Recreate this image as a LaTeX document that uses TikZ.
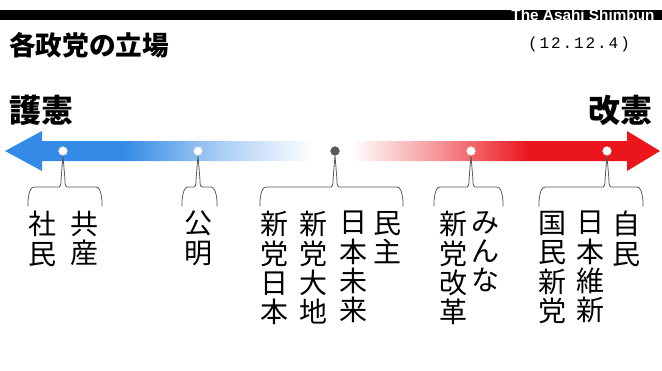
\documentclass[tikz,border=0pt]{standalone}
\usepackage{fontspec}
\usepackage{xcolor}
\usepackage{tikz}
\usetikzlibrary{positioning}
\usetikzlibrary{calc,shadings}
\newfontfamily\jp{Noto Sans CJK JP}
\newfontfamily\logofont{Liberation Sans}
\newfontfamily\datefont{Liberation Mono}[LetterSpace=12]
\definecolor{gokenblue}{RGB}{52,138,230}
\definecolor{kaikenred}{RGB}{234,22,28}
\colorlet{gokenpale}{gokenblue!45!white}
\colorlet{kaikenpale}{kaikenred!45!white}
\pgfdeclarehorizontalshading{kenpo}{100bp}{color(0bp)=(gokenblue);
  color(34bp)=(gokenblue); color(41bp)=(gokenpale); color(48.5bp)=(white);
  color(51.5bp)=(white); color(58bp)=(kaikenpale); color(65bp)=(kaikenred);
  color(100bp)=(kaikenred)}
\tikzset{
  party/.style = {anchor=north, align=center, inner sep=0pt,
    font=\jp\fontsize{21pt}{22pt}\selectfont},% seito, tategaki
  pole/.style = {inner sep=0pt, font=\jp\bfseries\fontsize{24pt}{24pt}\selectfont},
  dot/.style = {circle, inner sep=0pt, minimum size=6.5pt,
    fill=white, draw=white!85!black},% ten on the arrow
  middot/.style = {dot, fill=black!65, draw=black!65},
  kakko/.style = {draw=black!65, line width=0.6pt}% kakko under a dot
}
% #1 dot, #2 left end, #3 right end
\newcommand\partybrace[3]{%
  \draw[kakko] (#2,205) to[out=-90,in=180] (#2+6,187)
    -- ($(#1 |- base)+(-4,0)$) to[out=0,in=90] ($(#1 |- base)+(-2,-7)$)
    -- (#1.south)
    -- ($(#1 |- base)+(2,-7)$) to[out=90,in=180] ($(#1 |- base)+(4,0)$)
    -- (#3-6,187) to[out=0,in=-90] (#3,205);}

\begin{document}
\begin{tikzpicture}[x=0.75pt,y=-0.75pt]
\useasboundingbox (0,0) rectangle (662,371);
\coordinate (base) at (0,187);
% header
\fill[black] (0,10) rectangle (662,20);
\node[inner sep=0pt, white, font=\logofont\bfseries\fontsize{11.5pt}{11.5pt}\selectfont]
  (asahi) at (583,15) {The Asahi Shimbun};
\node[anchor=west, inner sep=0pt, font=\jp\bfseries\fontsize{20pt}{20pt}\selectfont]
  (title) at (9,45) {各政党の立場};
\node[inner sep=0pt, font=\datefont\fontsize{12pt}{12pt}\selectfont]
  (date) at (579,44) {(12.12.4)};
\node[pole, anchor=west] (goken) at (9,110) {護憲};
\node[pole, anchor=east] (kaiken) at (653,110) {改憲};
% arrow
\shade[shading=kenpo] (5,151) -- (42,131) -- (42,141) -- (627,141) -- (627,131)
  -- (660,151) -- (627,171) -- (627,161) -- (42,161) -- (42,171) -- cycle;
\node[dot] (d1) at (63,151) {};
\node[dot] (d2) at (198,151) {};
\node[middot] (d3) at (335,151) {};
\node[dot] (d4) at (471,151) {};
\node[dot] (d5) at (607,151) {};
\partybrace{d1}{28}{102}
\partybrace{d2}{182}{217}
\partybrace{d3}{260}{403}
\partybrace{d4}{434}{503}
\partybrace{d5}{539}{643}
% parties
\node[party] (shamin) at (42,211) {社\\民};
\node[party] (kyosan) at (84,211) {共\\産};
\node[party] (komei) at (198,211) {公\\明};
\node[party] (nippon) at (274,211) {新\\党\\日\\本};
\node[party] (daichi) at (313,211) {新\\党\\大\\地};
\node[party] (mirai) at (353,211) {日\\本\\未\\来};
\node[party] (minshu) at (387,211) {民\\主};
\node[party] (kaikaku) at (453,211) {新\\党\\改\\革};
\node[party] (minna) at (485,211) {み\\ん\\な};
\node[party] (kokumin) at (552,211) {国\\民\\新\\党};
\node[party] (ishin) at (590,211) {日\\本\\維\\新};
\node[party] (jimin) at (626,211) {自\\民};
\end{tikzpicture}
\end{document}
